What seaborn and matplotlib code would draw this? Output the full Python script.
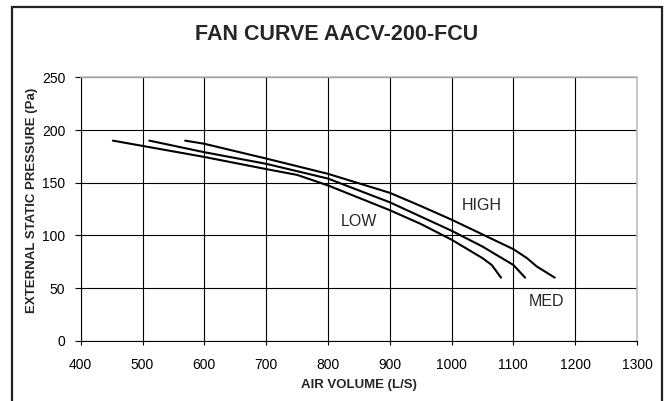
import numpy as np
import pandas as pd
import matplotlib
matplotlib.use("Agg")
import matplotlib.pyplot as plt
import seaborn as sns
from matplotlib.patches import Rectangle

# values
low_x = [452, 500, 600, 700, 750, 800, 900, 950, 1000, 1050, 1065, 1080]
low_y = [190, 185, 174.5, 163, 157.5, 147.5, 124, 111, 96, 78.5, 72, 60]
med_x = [511, 600, 700, 800, 900, 1000, 1050, 1100, 1119]
med_y = [190, 179, 168, 154, 131.5, 104.5, 89.5, 72, 60]
high_x = [569, 600, 700, 800, 900, 950, 1000, 1100, 1122, 1138, 1167]
high_y = [190, 187, 173, 158.5, 140.5, 128, 115, 87, 78.5, 70.5, 60]

curve_labels = ["LOW", "MED", "HIGH"]
label_pos = [(850, 113), (1153, 37), (1049, 128)]

x_ticks = list(range(400, 1301, 100))
y_ticks = list(range(0, 251, 50))

df = pd.concat([
    pd.DataFrame({"volume": low_x, "pressure": low_y, "speed": "LOW"}),
    pd.DataFrame({"volume": med_x, "pressure": med_y, "speed": "MED"}),
    pd.DataFrame({"volume": high_x, "pressure": high_y, "speed": "HIGH"}),
])

sns.set_theme(style="white")
plt.rcParams["font.family"] = ["Liberation Sans", "DejaVu Sans"]

fig = plt.figure(figsize=(6.67, 4.01), dpi=100)
ax = fig.add_axes([0.121, 0.150, 0.834, 0.657])

sns.lineplot(data=df, x="volume", y="pressure", units="speed", estimator=None,
             color="black", lw=1.5, sort=False, ax=ax)

ax.set_xlim(400, 1300)
ax.set_ylim(0, 250)
ax.set_xticks(x_ticks)
ax.set_yticks(y_ticks)
ax.grid(True, color="black", lw=0.8)
ax.set_axisbelow(True)
ax.tick_params(axis="both", labelsize=10, colors="black", width=0.8, direction="out",
               bottom=True, left=True)
ax.tick_params(axis="x", length=3, pad=9)
ax.tick_params(axis="y", length=4, pad=7)

for side in ["left", "bottom"]:
    ax.spines[side].set_color("black")
    ax.spines[side].set_linewidth(0.8)
for side in ["top", "right"]:
    ax.spines[side].set_color("#bdbdbd")
    ax.spines[side].set_linewidth(1.2)

ax.set_xlabel("AIR VOLUME (L/S)", fontsize=9.5, fontweight="bold", va="center")
ax.set_ylabel("EXTERNAL STATIC PRESSURE (Pa)", fontsize=9.5, fontweight="bold", va="center")
ax.xaxis.set_label_coords(0.5, -0.167)
ax.yaxis.set_label_coords(-0.088, 0.535)

for name, (lx, ly) in zip(curve_labels, label_pos):
    ax.text(lx, ly, name, fontsize=11.5, ha="center", va="center")

fig.text(0.505, 0.915, "FAN CURVE AACV-200-FCU", fontsize=15.5, fontweight="bold",
         ha="center", va="center")

# outer chart border
fig.patches.append(Rectangle((11.5 / 667, -0.05), (662 - 11.5) / 667, 1.05 - 7.5 / 401,
                             transform=fig.transFigure, fill=False, ec="#222222",
                             lw=1.6, clip_on=False))

fig.savefig("out.png", dpi=100)
